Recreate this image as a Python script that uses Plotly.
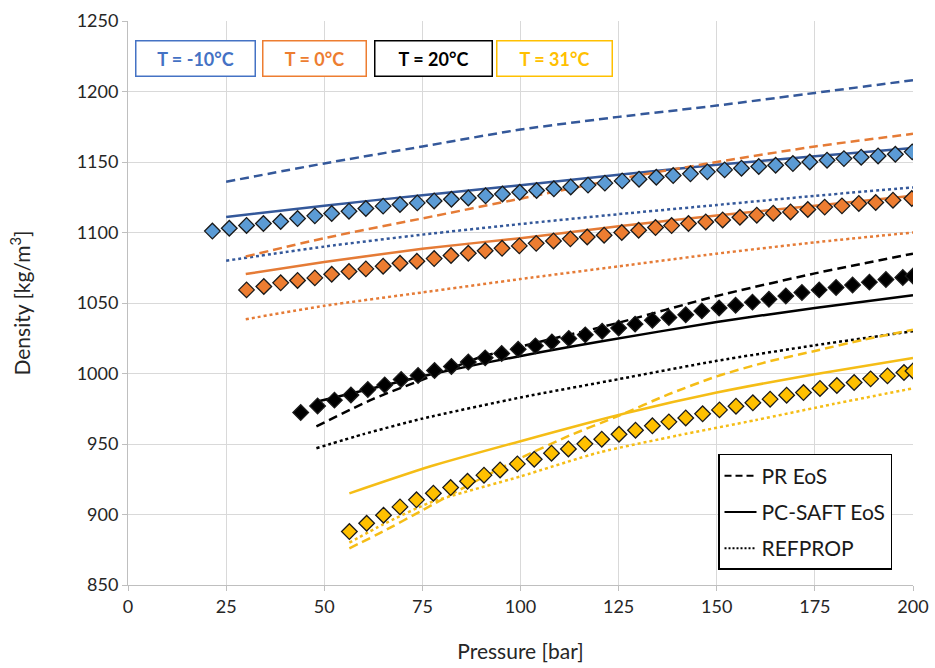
import plotly.graph_objects as go

# ---------------- experimental data (diamonds) ----------------
p_m10 = [21.5, 25.8, 30.2, 34.5, 38.9, 43.2, 47.6, 51.9, 56.3, 60.6, 65.0, 69.3, 73.7, 78.0,
         82.4, 86.7, 91.1, 95.4, 99.8, 104.1, 108.5, 112.8, 117.2, 121.5, 125.9, 130.2, 134.6,
         138.9, 143.3, 147.6, 152.0, 156.3, 160.7, 165.0, 169.4, 173.7, 178.1, 182.4, 186.8,
         191.1, 195.5, 199.8]
rho_m10 = [1101, 1103, 1105, 1106.4, 1107.8, 1109.9, 1111.8, 1113.5, 1115.1, 1117, 1118.7,
           1119.9, 1121, 1122.4, 1123.6, 1124.5, 1126, 1127.3, 1128.5, 1129.8, 1131, 1132.3,
           1133.6, 1135, 1136.6, 1137.8, 1139.2, 1140.4, 1141.6, 1143, 1144.4, 1145.6, 1146.8,
           1147.7, 1148.9, 1150, 1151.3, 1152.4, 1153.4, 1154.3, 1155.5, 1157.2]

p_0 = [30.2, 34.6, 38.9, 43.2, 47.6, 51.9, 56.3, 60.6, 65.0, 69.3, 73.6, 78.0, 82.3, 86.7,
       91.0, 95.3, 99.7, 104.0, 108.4, 112.7, 117.0, 121.3, 125.8, 130.1, 134.4, 138.5, 142.8,
       147.2, 151.5, 155.9, 160.2, 164.4, 168.8, 173.2, 177.5, 181.9, 186.2, 190.5, 194.9, 199.7]
rho_0 = [1059.3, 1061.7, 1064.3, 1066, 1067.8, 1070.4, 1072.3, 1074.2, 1076.1, 1078.2, 1079.6,
         1081.5, 1083.7, 1085.3, 1087, 1088.8, 1090.5, 1092.3, 1094, 1095.5, 1096.8, 1098.1,
         1100, 1101.6, 1103.5, 1104.9, 1106.4, 1107.5, 1108.9, 1110.8, 1112.3, 1113.7, 1114.6,
         1116.3, 1118, 1118.9, 1120.6, 1121.3, 1122.9, 1124.1]

p_20 = [44.0, 48.3, 52.6, 56.8, 61.1, 65.4, 69.6, 73.9, 78.1, 82.4, 86.7, 91.0, 95.2, 99.4,
        103.8, 108.0, 112.3, 116.5, 120.8, 125.0, 129.2, 133.6, 137.8, 142.1, 146.2, 150.6,
        154.8, 159.1, 163.3, 167.6, 171.7, 176.1, 180.4, 184.6, 188.9, 193.1, 197.4, 200.0]
rho_20 = [972.3, 977.0, 981.1, 984.8, 988.6, 991.9, 995.7, 998.6, 1002.1, 1005, 1008.2, 1011.1,
          1014.2, 1017.2, 1019.6, 1022.4, 1024.8, 1027.4, 1030, 1032.3, 1035, 1037.8, 1039.7,
          1041.6, 1044.4, 1046.5, 1048.4, 1050.6, 1052.7, 1055, 1057.4, 1059.3, 1061, 1062.8,
          1064.8, 1066.7, 1068.1, 1069.2]

p_31 = [56.4, 60.8, 65.1, 69.3, 73.5, 77.8, 82.2, 86.5, 90.7, 94.8, 99.2, 103.5, 107.9, 112.2,
        116.4, 120.7, 125.1, 129.3, 133.6, 137.8, 142.1, 146.4, 150.7, 154.9, 159.2, 163.6,
        167.8, 172.1, 176.3, 180.6, 185.0, 189.2, 193.5, 197.7, 200.0]
rho_31 = [887.9, 893.8, 899.5, 905.4, 910.4, 915.1, 919.1, 923.6, 927.9, 931.6, 935.9, 939.2,
          943.5, 946.5, 950.1, 953.4, 956.9, 959.8, 962.9, 965.7, 968.5, 971.4, 974.2, 976.8,
          979.2, 981.8, 984.6, 986.5, 989.4, 991.5, 993.6, 996.2, 998.3, 1000.7, 1001.8]

# ---------------- model curves ----------------
p_line_m10 = [25, 50, 75, 100, 125, 150, 175, 200]
pr_m10 = [1136, 1149, 1161, 1173, 1182, 1190, 1199, 1208]
saft_m10 = [1111, 1119, 1126.5, 1133.5, 1141, 1148, 1154, 1160]
ref_m10 = [1080, 1090, 1098.5, 1106, 1113, 1119.5, 1126, 1132]

p_line_0 = [30, 50, 75, 100, 125, 150, 175, 200]
pr_0 = [1083, 1096, 1110, 1124, 1138, 1150, 1161, 1170]
saft_0 = [1070.5, 1079, 1088.5, 1096, 1104.5, 1112, 1119, 1126]
ref_0 = [1038.5, 1048, 1057.5, 1067, 1076, 1085, 1093, 1100]

p_pr_20 = [48, 62.5, 78.6, 89.7, 105, 123.6, 150, 175, 200]
pr_20 = [962.5, 982, 999.5, 1011.5, 1022.5, 1035, 1055, 1071, 1085]
p_saft_20 = [48, 60, 75, 90, 105, 120, 150, 175, 200]
saft_20 = [980, 988, 998, 1007, 1015, 1022.5, 1036.5, 1046.5, 1055.5]
p_ref_20 = [48, 60, 75, 100, 125, 150, 175, 200]
ref_20 = [947, 957, 968, 983, 996, 1009, 1020, 1030]

p_pr_31 = [56.4, 65, 75, 87.5, 100, 112.5, 125, 137.5, 150, 162.5, 175, 187.5, 200]
pr_31 = [876, 888, 903, 922, 940, 956, 970, 985, 998, 1008, 1016, 1024, 1031]
p_saft_31 = [56.4, 76.9, 100, 127, 150, 175, 200]
saft_31 = [915, 934, 952, 972, 986.5, 999.5, 1011]
p_ref_31 = [56.4, 65, 77, 100, 120, 140, 160, 180, 200]
ref_31 = [880, 893, 908.5, 927, 944, 956, 967, 978.5, 989.5]

temp_labels = ["T = -10°C", "T = 0°C", "T = 20°C", "T = 31°C"]
model_names = ["PR EoS", "PC-SAFT EoS", "REFPROP"]

x_ticks = [0, 25, 50, 75, 100, 125, 150, 175, 200]
y_ticks = [850, 900, 950, 1000, 1050, 1100, 1150, 1200, 1250]

# ---------------- styling ----------------
line_cols = ["#34589A", "#E57B36", "#000000", "#F5BD16"]
fill_cols = ["#5B9BD5", "#ED7D31", "#000000", "#FFC000"]
box_cols = ["#4472C4", "#ED7D31", "#000000", "#FFC000"]
DASH = "9px,5px"
DOT = "3px,3px"
LW = 2.5
FONT = "Lato"

fig = go.Figure()

curves = [
    (p_line_m10, pr_m10, p_line_m10, saft_m10, p_line_m10, ref_m10),
    (p_line_0, pr_0, p_line_0, saft_0, p_line_0, ref_0),
    (p_pr_20, pr_20, p_saft_20, saft_20, p_ref_20, ref_20),
    (p_pr_31, pr_31, p_saft_31, saft_31, p_ref_31, ref_31),
]
for i, (xp, yp, xs, ys, xr, yr) in enumerate(curves):
    c = line_cols[i]
    fig.add_trace(go.Scatter(x=xp, y=yp, mode="lines", line=dict(color=c, width=LW, dash=DASH, shape="spline", smoothing=0.6), showlegend=False, hoverinfo="skip"))
    fig.add_trace(go.Scatter(x=xs, y=ys, mode="lines", line=dict(color=c, width=LW, shape="spline", smoothing=0.6), showlegend=False, hoverinfo="skip"))
    fig.add_trace(go.Scatter(x=xr, y=yr, mode="lines", line=dict(color=c, width=LW, dash=DOT, shape="spline", smoothing=0.6), showlegend=False, hoverinfo="skip"))

markers = [(p_m10, rho_m10), (p_0, rho_0), (p_20, rho_20), (p_31, rho_31)]
for i, (xm, ym) in enumerate(markers):
    fig.add_trace(go.Scatter(
        x=xm, y=ym, mode="markers",
        marker=dict(symbol="diamond", size=12, color=fill_cols[i], line=dict(color="#1a1a1a", width=1.3)),
        showlegend=False, name=temp_labels[i]))

# legend entries (line styles)
for name, dash, grp in zip(model_names, ["7px,4px", "solid", "2px,2px"], ["a", "b", "c"]):
    fig.add_trace(go.Scatter(x=[None], y=[None], mode="lines", name=name, legendgroup=grp,
                             line=dict(color="black", width=2, dash=dash)))

# temperature boxes
box_x = [0.086, 0.2376, 0.389, 0.5427]
box_w = [110, 94, 108, 106]
for lab, col, bx, bw in zip(temp_labels, box_cols, box_x, box_w):
    fig.add_annotation(xref="paper", yref="paper", x=bx, y=0.9335, text="<b>" + lab + "</b>",
                       showarrow=False, font=dict(family=FONT, size=18, color=col),
                       bordercolor=col, borderwidth=1.5, borderpad=4, bgcolor="white",
                       width=bw, height=26, xanchor="center", yanchor="middle")

axis_common = dict(showgrid=True, gridcolor="#D9D9D9", gridwidth=1, showline=True,
                   linecolor="#BFBFBF", linewidth=1, ticks="outside", ticklen=5,
                   tickcolor="#BFBFBF", zeroline=False, automargin=False,
                   tickfont=dict(family=FONT, size=18, color="#262626"))

fig.update_layout(
    width=935, height=668,
    margin=dict(l=128, r=22, t=21, b=83),
    paper_bgcolor="white", plot_bgcolor="white",
    xaxis=dict(range=[0, 200], tickvals=x_ticks,
               title=dict(text="Pressure [bar]", font=dict(family=FONT, size=21, color="#262626"), standoff=28),
               **axis_common),
    yaxis=dict(range=[850, 1250], tickvals=y_ticks,
               title=dict(text="Density [kg/m<sup>3</sup>]", font=dict(family=FONT, size=21, color="#262626"), standoff=40),
               **axis_common),
    legend=dict(x=0.7516, y=0.2323, xanchor="left", yanchor="top", bgcolor="white",
                bordercolor="black", borderwidth=1.5, font=dict(family=FONT, size=21, color="#1a1a1a"),
                traceorder="grouped", tracegroupgap=6, itemwidth=32),
    showlegend=True,
)

fig.write_html("out.html")
